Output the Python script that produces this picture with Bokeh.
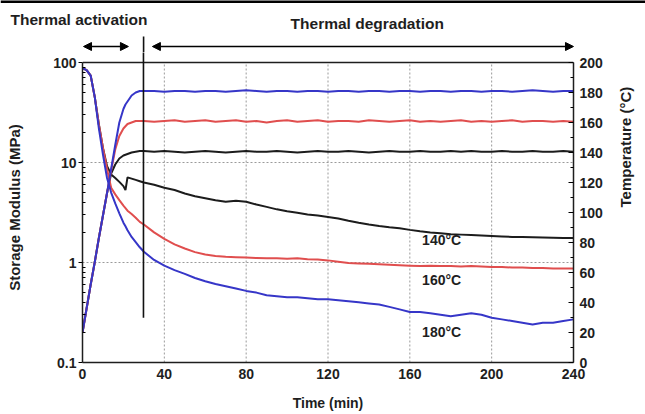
import math
from bokeh.plotting import figure
from bokeh.layouts import column
from bokeh.models import (Range1d, LinearAxis, LinearScale, FixedTicker, Label, Arrow,
                          NormalHead, CustomJSTickFormatter)
from bokeh.embed import file_html
from bokeh.resources import INLINE

# ---------------- data ----------------
TIME = [0, 2, 4, 6, 8, 10, 12, 14, 16, 18, 20, 21, 22, 24, 26, 28, 30,
        35, 40, 45, 50, 55, 60, 65, 70, 75, 80, 85, 90, 95, 100, 105, 110,
        115, 120, 125, 130, 135, 140, 145, 150, 155, 160, 165, 170, 175,
        180, 185, 190, 195, 200, 205, 210, 215, 220, 225, 230, 235, 240]

MOD_140 = [88, 84, 74, 45, 24, 14, 9.2, 7.6, 7.0, 6.4, 5.8, 5.3, 7.1, 6.9, 6.7, 6.5, 6.3,
           6.0, 5.6, 5.3, 4.9, 4.6, 4.4, 4.2, 4.05, 4.15, 4.05, 3.8, 3.6, 3.4, 3.25, 3.15, 3.02,
           2.95, 2.85, 2.75, 2.62, 2.5, 2.4, 2.32, 2.25, 2.2, 2.12, 2.05, 2.0, 1.96,
           1.92, 1.9, 1.88, 1.86, 1.84, 1.82, 1.8, 1.8, 1.79, 1.78, 1.77, 1.76, 1.76]
MOD_160 = [88, 84, 74, 45, 24, 14, 8.6, 5.6, 4.8, 4.2, 3.7, 3.5, 3.3, 3.05, 2.8, 2.55, 2.4,
           2.0, 1.72, 1.52, 1.38, 1.27, 1.2, 1.16, 1.14, 1.13, 1.12, 1.11, 1.1, 1.1, 1.09, 1.1, 1.08,
           1.07, 1.05, 1.02, 0.99, 0.98, 0.97, 0.96, 0.95, 0.94, 0.93, 0.92, 0.93, 0.92,
           0.92, 0.91, 0.92, 0.91, 0.9, 0.9, 0.89, 0.89, 0.88, 0.88, 0.87, 0.87, 0.87]
MOD_180 = [88, 84, 74, 45, 22, 12, 7.0, 5.0, 3.9, 3.1, 2.5, 2.3, 2.1, 1.8, 1.6, 1.42, 1.28,
           1.06, 0.93, 0.84, 0.77, 0.7, 0.65, 0.61, 0.58, 0.55, 0.52, 0.5, 0.47, 0.46, 0.45, 0.45, 0.44,
           0.43, 0.43, 0.42, 0.41, 0.4, 0.39, 0.38, 0.36, 0.34, 0.32, 0.32, 0.31, 0.3,
           0.29, 0.3, 0.31, 0.3, 0.28, 0.27, 0.26, 0.25, 0.24, 0.25, 0.25, 0.26, 0.27]

TEMP_140 = [20, 36, 52, 67, 83, 98, 113, 126, 132, 136, 138, 138.5, 139, 140, 140.5, 141, 141,
            140.5, 141, 140.5, 140, 140.5, 141, 140.5, 140, 140.5, 141, 140.5, 140.5, 141, 140.5, 140, 140.5,
            141, 140.5, 140.5, 141, 140.5, 140, 140.5, 141, 140.5, 140.5, 141, 140.5, 140.5,
            141, 140.5, 141, 140.5, 140.5, 141, 140.5, 140.5, 141, 140.5, 140.5, 141, 140.5]
TEMP_160 = [20, 36, 52, 67, 83, 98, 113, 128, 142, 151, 156, 157.5, 159, 160, 161, 161, 161,
            160.5, 161, 161.5, 160.5, 161, 161.5, 160.5, 161, 161.5, 160.5, 161, 160, 161, 161.5, 160.5, 161,
            161.5, 160.5, 161, 161, 160.5, 161.5, 161, 160.5, 161, 161.5, 160.5, 161, 160.5,
            161, 161.5, 160.5, 161, 160.5, 161, 161.5, 160.5, 161, 161, 160.5, 161, 160.5]
TEMP_180 = [20, 36, 52, 67, 83, 98, 113, 129, 145, 160, 169, 172, 174, 178, 180, 181, 181,
            181, 180.5, 181, 181, 180.5, 181, 181, 180.5, 181, 181.5, 181, 180.5, 181, 181, 180.5, 181,
            181, 180.5, 181, 181, 180.5, 181, 181, 180.5, 181, 181, 180.5, 181, 181,
            180.5, 181, 181, 180.5, 181, 181, 180.5, 181, 181.5, 181, 180.5, 181, 181]

SERIES = [("140", MOD_140, TEMP_140, "#1c1c1c"),
          ("160", MOD_160, TEMP_160, "#e04e4e"),
          ("180", MOD_180, TEMP_180, "#3636c8")]

TIME_TICKS = [0, 40, 80, 120, 160, 200, 240]
MOD_TICKS = [0.1, 1, 10, 100]
MOD_MINOR = [d * m for d in (0.1, 1, 10) for m in range(2, 10)]
TEMP_TICKS = [0, 20, 40, 60, 80, 100, 120, 140, 160, 180, 200]
TEMP_MINOR = [10, 30, 50, 70, 90, 110, 130, 150, 170, 190]
GRID_X = [40, 80, 120, 160, 200]
GRID_Y = [1, 10]
ACTIVATION_END = 29.8
TEMP_LABELS = [("140°C", 166, 10 ** 0.23), ("160°C", 166, 10 ** -0.17), ("180°C", 166, 10 ** -0.69)]
PHASES = [("Thermal activation", -35.1, 43, 0.5, 22.4),
          ("Thermal degradation", 101.5, 39, 34.1, 239.5)]

FONT = "Liberation Sans"
INK = "#1e1e1e"

W = 645
L, R = 82, 71
H_TOP = 52           # header strip height (px)
H_MAIN = 362         # main canvas height (px)
PAD = 10             # frame extends this many px above the plot box
PX_DEC = 100.0       # px per decade (log axis)
PX_DEG = 1.5         # px per degree (temperature axis)
PX_MIN = 2.05        # px per minute

# ---------------- header strip (phases) ----------------
top = figure(width=W, height=H_TOP, x_axis_type=None, y_axis_type=None,
             x_range=Range1d(-L / PX_MIN, (W - L) / PX_MIN), y_range=Range1d(PAD, H_TOP + PAD),
             output_backend="svg", toolbar_location=None,
             min_border_left=0, min_border_right=0, min_border_top=0, min_border_bottom=0)
try:
    top.frame_align = False
except Exception:
    pass
top.outline_line_color = None
top.xgrid.visible = False
top.ygrid.visible = False

top.segment(x0=[-L / PX_MIN], y0=[H_TOP + PAD - 1], x1=[(W - L) / PX_MIN], y1=[H_TOP + PAD - 1],
            line_color="black", line_width=3)
top.segment(x0=[ACTIVATION_END], y0=[0], x1=[ACTIVATION_END], y1=[26],
            line_color="#111111", line_width=1.6)

for text, tx, ty, xs, xe in PHASES:
    top.add_layout(Label(x=tx, y=ty, text=text, text_align="left", text_baseline="middle",
                         text_font=FONT, text_font_style="bold", text_font_size="15.5px",
                         text_color=INK))
    top.add_layout(Arrow(start=NormalHead(size=8, fill_color="black", line_color="black"),
                         end=NormalHead(size=8, fill_color="black", line_color="black"),
                         x_start=xs, y_start=16, x_end=xe, y_end=16,
                         line_color="black", line_width=1.5))

# ---------------- main chart ----------------
p = figure(width=W, height=H_MAIN, y_axis_type="log",
           x_range=Range1d(0, 240),
           y_range=Range1d(MOD_TICKS[0], MOD_TICKS[-1] * 10 ** (PAD / PX_DEC)),
           output_backend="svg", toolbar_location=None,
           min_border_left=L, min_border_right=R, min_border_top=0, min_border_bottom=52)
try:
    p.frame_align = False
except Exception:
    pass
p.extra_y_ranges = {"temp": Range1d(TEMP_TICKS[0], TEMP_TICKS[-1] + PAD / PX_DEG)}
p.extra_y_scales = {"temp": LinearScale()}
p.outline_line_color = None
p.xgrid.visible = False
p.ygrid.visible = False
p.background_fill_color = "white"

# dotted grid inside the box
p.segment(x0=GRID_X, y0=[MOD_TICKS[0]] * len(GRID_X), x1=GRID_X, y1=[MOD_TICKS[-1]] * len(GRID_X),
          line_color="#9a9a9a", line_width=1, line_dash="2 2")
p.segment(x0=[TIME_TICKS[0]] * len(GRID_Y), y0=GRID_Y, x1=[TIME_TICKS[-1]] * len(GRID_Y), y1=GRID_Y,
          line_color="#9a9a9a", line_width=1, line_dash="2 2")
# top edge of box
p.segment(x0=[TIME_TICKS[0]], y0=[MOD_TICKS[-1]], x1=[TIME_TICKS[-1]], y1=[MOD_TICKS[-1]],
          line_color=INK, line_width=1.5)

for name, mod, temp, col in SERIES:
    p.line(TIME, mod, line_color=col, line_width=2)
    p.line(TIME, temp, line_color=col, line_width=2, y_range_name="temp")

p.segment(x0=[ACTIVATION_END], y0=[0.28], x1=[ACTIVATION_END], y1=[1000],
          line_color="#111111", line_width=1.6)

for t, x, y in TEMP_LABELS:
    p.add_layout(Label(x=x, y=y, text=t, text_align="left", text_baseline="middle",
                       text_font=FONT, text_font_style="bold", text_font_size="14px",
                       text_color=INK))

def style_axis(a):
    a.axis_line_width = 1.5
    a.axis_line_color = INK
    a.major_label_text_font = FONT
    a.major_label_text_font_style = "bold"
    a.major_label_text_font_size = "14px"
    a.major_label_text_color = INK
    a.axis_label_text_font = FONT
    a.axis_label_text_font_style = "bold"
    a.axis_label_text_color = INK

ax = p.xaxis[0]
ax.ticker = FixedTicker(ticks=TIME_TICKS)
ax.major_tick_out = 0
ax.major_tick_in = 0
ax.minor_tick_out = 0
ax.minor_tick_in = 0
ax.major_label_standoff = 6
ax.axis_label = "Time (min)"
ax.axis_label_text_font_size = "14px"
ax.axis_label_standoff = 13
style_axis(ax)

ay = p.yaxis[0]
ay.ticker = FixedTicker(ticks=MOD_TICKS, minor_ticks=MOD_MINOR)
ay.formatter = CustomJSTickFormatter(code="return String(Number(tick.toPrecision(3)));")
ay.bounds = (MOD_TICKS[0], MOD_TICKS[-1])
ay.major_tick_out = 4
ay.major_tick_in = 0
ay.minor_tick_out = 0
ay.minor_tick_in = 3
ay.major_label_standoff = 2
ay.axis_label = "Storage Modulus (MPa)"
ay.axis_label_text_font_size = "15px"
ay.axis_label_standoff = 27
style_axis(ay)

ar = LinearAxis(y_range_name="temp", ticker=FixedTicker(ticks=TEMP_TICKS, minor_ticks=TEMP_MINOR),
                bounds=(TEMP_TICKS[0], TEMP_TICKS[-1]))
ar.major_tick_out = 0
ar.major_tick_in = 5
ar.minor_tick_out = 0
ar.minor_tick_in = 3
ar.major_label_standoff = 6
ar.axis_label = "Temperature (°C)"
ar.axis_label_text_font_size = "15px"
ar.axis_label_standoff = 20
ar.axis_label_orientation = math.pi / 2
style_axis(ar)
p.add_layout(ar, "right")

layout = column(top, p, spacing=0)
open("out.html", "w").write(file_html(layout, INLINE))
